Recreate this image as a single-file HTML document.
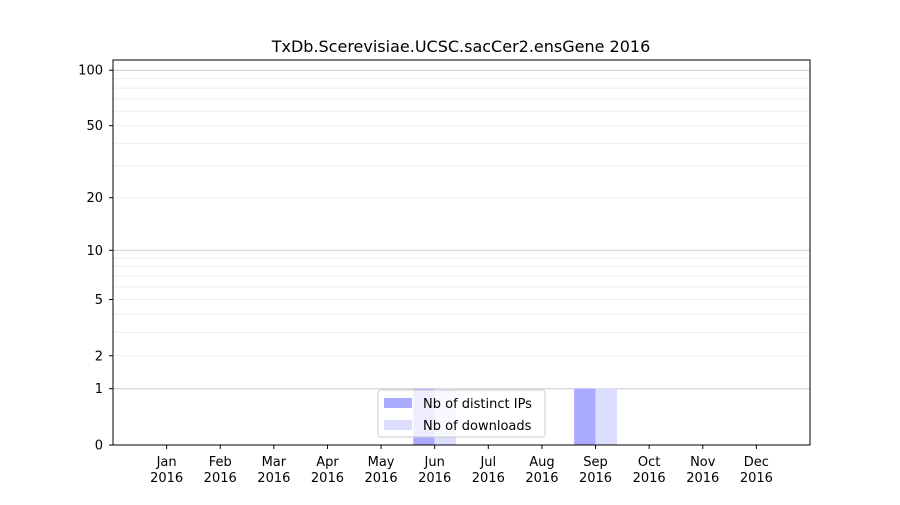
<!DOCTYPE html>
<html><head><meta charset="utf-8"><style>
body{margin:0;background:#fff;font-family:"Liberation Sans","DejaVu Sans",sans-serif;}
svg text{font-family:"DejaVu Sans","Liberation Sans",sans-serif;}
</style></head><body>
<svg id="chart" width="900" height="500" xmlns="http://www.w3.org/2000/svg">
<rect width="900" height="500" fill="#fff"/>
<text x="461" y="52" text-anchor="middle" font-size="16" fill="#000">TxDb.Scerevisiae.UCSC.sacCer2.ensGene 2016</text>
<g id="grid"></g><g id="bars"></g>
<rect x="113" y="60" width="697" height="385" fill="none" stroke="#000" stroke-width="1"/>
<g id="yticks"></g><g id="xticks"></g>
<g>
<rect x="378" y="390" width="167" height="47" rx="3" fill="#fff" fill-opacity="0.8" stroke="#ccc"/>
<rect x="384" y="398" width="28" height="10" fill="#aaaaff"/>
<text x="423" y="408" font-size="13">Nb of distinct IPs</text>
<rect x="384" y="420" width="28" height="10" fill="#ddddff"/>
<text x="423" y="430" font-size="13">Nb of downloads</text>
</g>
</svg>
<script>
const months=["Jan","Feb","Mar","Apr","May","Jun","Jul","Aug","Sep","Oct","Nov","Dec"];
const ips=[0,0,0,0,0,1,0,0,1,0,0,0];
const downloads=[0,0,0,0,0,1,0,0,1,0,0,0];
const yTicks=[0,1,2,5,10,20,50,100];
const majorGrid=[1,10,100];
const minorGrid=[2,3,4,5,6,7,8,9,20,30,40,50,60,70,80,90];
const NS="http://www.w3.org/2000/svg";
function X(i){return 113+(i+1)*697/13;}
function Y(v){return 445-187*Math.log10(1+v);}
const bw=697/13*0.4;
function mk(t,a,p){const e=document.createElementNS(NS,t);for(const k in a)e.setAttribute(k,a[k]);p.appendChild(e);return e;}
const g=document.getElementById('grid');
minorGrid.forEach(v=>{const l=mk('line',{x1:113,x2:810,y1:Y(v),y2:Y(v),stroke:'#eeeeee','stroke-width':1},g);

});
majorGrid.forEach(v=>{const l=mk('line',{x1:113,x2:810,y1:Y(v),y2:Y(v),stroke:'#cccccc','stroke-width':1},g);

});
const b=document.getElementById('bars');
months.forEach((m,i)=>{
 if(ips[i]>0){const r=mk('rect',{x:X(i)-bw,y:Y(ips[i]),width:bw,height:445-Y(ips[i]),fill:'#aaaaff'},b);
 
 }
 if(downloads[i]>0){const r=mk('rect',{x:X(i),y:Y(downloads[i]),width:bw,height:445-Y(downloads[i]),fill:'#ddddff'},b);
 
 }
});
const yt=document.getElementById('yticks');
yTicks.forEach(v=>{mk('line',{x1:109,x2:113,y1:Y(v),y2:Y(v),stroke:'#000'},yt);
 const t=mk('text',{x:103,y:Y(v)+4.5,'text-anchor':'end','font-size':13},yt);t.textContent=v;
 
 });
const xt=document.getElementById('xticks');
months.forEach((m,i)=>{mk('line',{x1:X(i),x2:X(i),y1:445,y2:449,stroke:'#000'},xt);
 const t=mk('text',{x:X(i),y:466,'text-anchor':'middle','font-size':13},xt);
 
 
 mk('tspan',{x:X(i),dy:0},t).textContent=m;
 mk('tspan',{x:X(i),dy:16},t).textContent='2016';});
</script>
</body></html>
